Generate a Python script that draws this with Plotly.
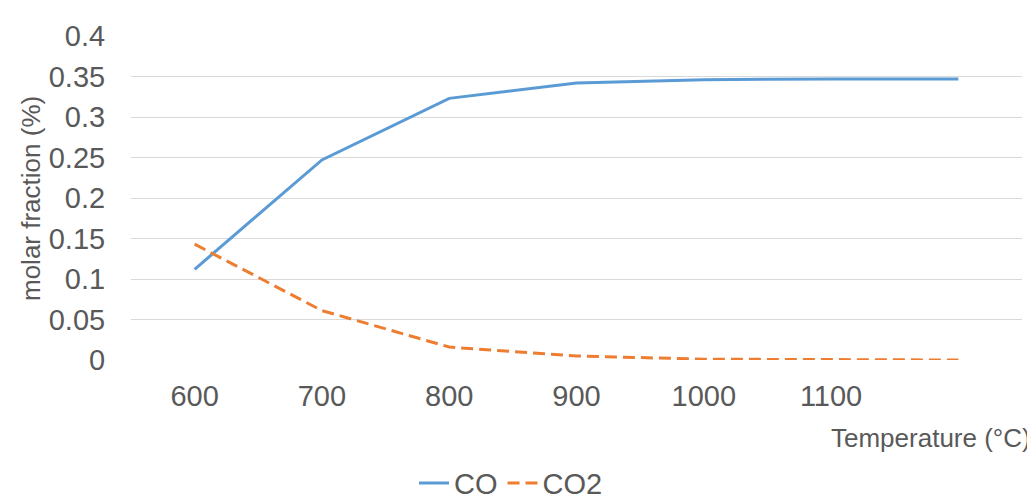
import plotly.graph_objects as go

temps = [600, 700, 800, 900, 1000, 1100, 1200]
co = [0.112, 0.247, 0.323, 0.342, 0.346, 0.347, 0.347]
co2 = [0.143, 0.061, 0.016, 0.005, 0.001, 0.0005, 0.0]
tick_vals = [600, 700, 800, 900, 1000, 1100]
tick_text = ["600", "700", "800", "900", "1000", "1100"]
y_ticks = [0, 0.05, 0.1, 0.15, 0.2, 0.25, 0.3, 0.35, 0.4]
y_text = ["0", "0.05", "0.1", "0.15", "0.2", "0.25", "0.3", "0.35", "0.4"]

FONT = "Liberation Sans, Arial, sans-serif"
GREY = "#595959"

fig = go.Figure()
fig.add_trace(go.Scatter(x=temps, y=co, mode="lines", name="CO",
                         line=dict(color="#5B9BD5", width=3)))
fig.add_trace(go.Scatter(x=temps, y=co2, mode="lines", name="CO2",
                         line=dict(color="#ED7D31", width=3, dash="12px,6px")))

fig.update_layout(
    width=1035, height=499,
    margin=dict(l=123, r=21, t=20, b=147),
    paper_bgcolor="white", plot_bgcolor="white",
    font=dict(family=FONT, color=GREY, size=29),
    showlegend=True,
    legend=dict(orientation="h", xref="container", yref="container",
                x=0.486, xanchor="center", y=0.048, yanchor="middle",
                font=dict(size=29, color=GREY), itemwidth=30,
                tracegroupgap=0),
    xaxis=dict(range=[550, 1250], tickvals=tick_vals, ticktext=tick_text,
               showgrid=False, zeroline=False, showline=False,
               ticks="outside", ticklen=10, tickcolor="rgba(0,0,0,0)",
               tickfont=dict(size=29, color=GREY)),
    yaxis=dict(range=[0, 0.4], tickvals=y_ticks, ticktext=y_text,
               showgrid=True, gridcolor="#d9d9d9", gridwidth=1,
               zeroline=False, showline=False,
               ticks="outside", ticklen=19, tickcolor="rgba(0,0,0,0)",
               tickfont=dict(size=29, color=GREY)),
    annotations=[
        dict(text="molar fraction (%)", textangle=-90, xref="paper", yref="paper",
             x=-0.1122, y=0.497, xanchor="center", yanchor="middle",
             showarrow=False, font=dict(size=26, color=GREY)),
        dict(text="Temperature (°C)", xref="paper", yref="paper",
             x=1.0123, y=-0.241, xanchor="right", yanchor="middle",
             showarrow=False, font=dict(size=26, color=GREY)),
    ],
)

fig.write_html("out.html")
